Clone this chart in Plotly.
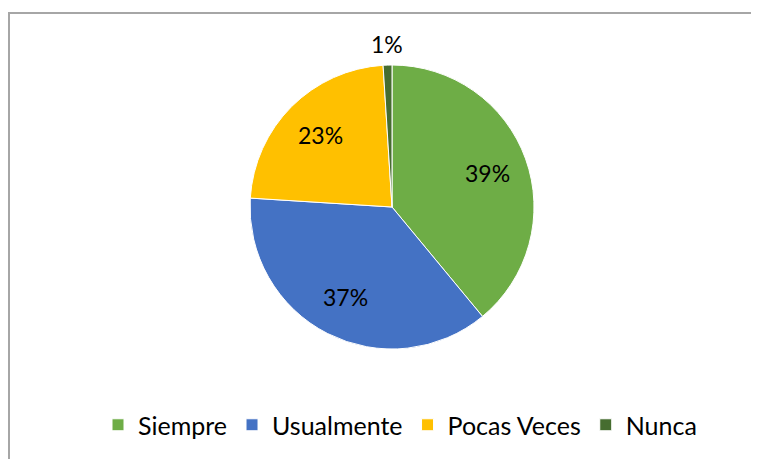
import math
import plotly.graph_objects as go

labels = ['Siempre', 'Usualmente', 'Pocas Veces', 'Nunca']
values = [39, 37, 23, 1]
colors = ['#6EAD46', '#4472C4', '#FFC000', '#466D30']
outside = [False, False, False, True]

# page is drawn with an 8px body margin, so figure pixels = page pixels - 8
W, H = 759, 459
cx, cy, r = 384, 199, 142

fig = go.Figure()

fig.add_trace(go.Pie(
    labels=labels,
    values=values,
    sort=False,
    direction='clockwise',
    rotation=0,
    marker=dict(colors=colors, line=dict(color='white', width=1)),
    textinfo='none',
    domain=dict(x=[(cx - r) / W, (cx + r) / W],
                y=[1 - (cy + r) / H, 1 - (cy - r) / H]),
    hoverinfo='label+percent',
))

# percentage labels placed like Excel's data labels
total = sum(values)
cum = 0
annotations = []
for v, out in zip(values, outside):
    mid = (cum + v / 2) / total * 2 * math.pi
    cum += v
    d = r + 21 if out else 0.715 * r
    px = cx + d * math.sin(mid)
    py = cy - d * math.cos(mid)
    annotations.append(dict(
        x=px / W, y=1 - py / H, xref='paper', yref='paper',
        text=f'{round(v / total * 100)}%', showarrow=False,
        xanchor='center', yanchor='middle',
        font=dict(family='Lato', size=23, color='black'),
    ))

fig.update_layout(
    width=W, height=H,
    margin=dict(l=0, r=0, t=0, b=0),
    paper_bgcolor='white',
    font=dict(family='Lato', color='black'),
    showlegend=True,
    legend=dict(orientation='h', x=392 / W, xanchor='center', y=1 - 417 / H, yanchor='middle',
                font=dict(size=25), traceorder='normal'),
    annotations=annotations,
    shapes=[dict(type='rect', xref='paper', yref='paper',
                 x0=1 / W, x1=1.05, y0=-0.05, y1=1 - 5 / H,
                 line=dict(color='#A6A6A6', width=2))],
)

fig.write_html('out.html')
